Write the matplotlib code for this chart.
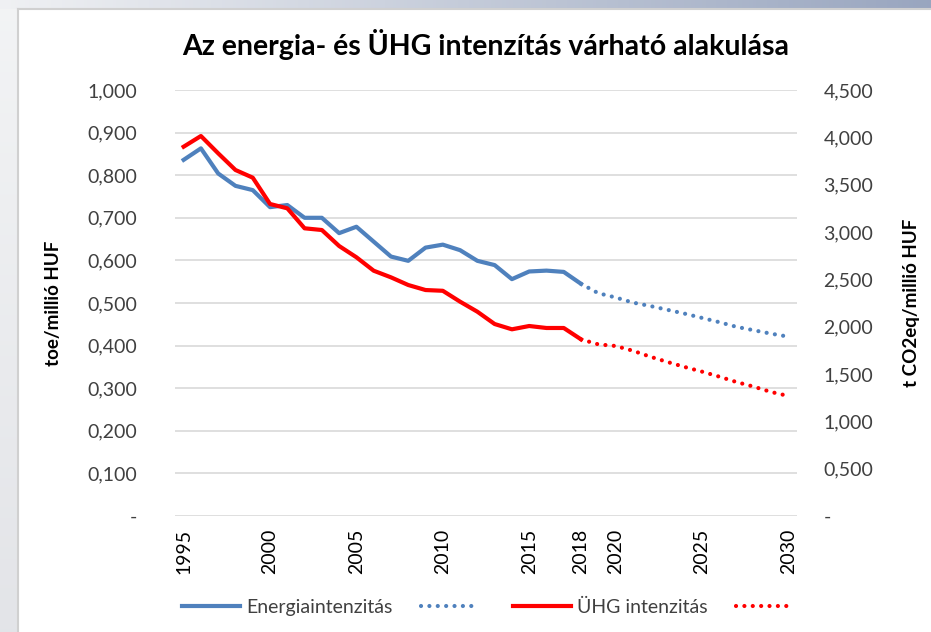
import numpy as np
import matplotlib
matplotlib.use("Agg")
import matplotlib.pyplot as plt
from matplotlib.lines import Line2D

plt.rcParams['font.family'] = ['Lato', 'DejaVu Sans']

# ---- data ----
years_hist = list(range(1995, 2019))
energy_hist = [0.836, 0.863, 0.804, 0.775, 0.765, 0.725, 0.730, 0.700, 0.700, 0.664,
               0.679, 0.644, 0.609, 0.599, 0.630, 0.637, 0.624, 0.599, 0.589, 0.556,
               0.574, 0.576, 0.573, 0.545]
ghg_hist = [3.901, 4.014, 3.831, 3.655, 3.574, 3.296, 3.250, 3.039, 3.021, 2.852,
            2.733, 2.591, 2.521, 2.440, 2.387, 2.379, 2.264, 2.158, 2.028, 1.972,
            2.007, 1.986, 1.986, 1.866]
years_proj = list(range(2018, 2031))
energy_proj = [0.545, 0.523, 0.513, 0.501, 0.493, 0.484, 0.475, 0.465, 0.455, 0.444,
               0.436, 0.428, 0.421]
ghg_proj = [1.866, 1.813, 1.796, 1.746, 1.683, 1.627, 1.574, 1.525, 1.472, 1.415,
            1.366, 1.310, 1.268]
xtick_years = [1995, 2000, 2005, 2010, 2015, 2018, 2020, 2025, 2030]
left_ticks = [0.0, 0.1, 0.2, 0.3, 0.4, 0.5, 0.6, 0.7, 0.8, 0.9, 1.0]
right_ticks = [0.0, 0.5, 1.0, 1.5, 2.0, 2.5, 3.0, 3.5, 4.0, 4.5]

title = "Az energia- és ÜHG intenzítás várható alakulása"
left_label = "toe/millió HUF"
right_label = "t CO2eq/millió HUF"
legend_labels = ["Energiaintenzitás", "", "ÜHG intenzitás", ""]

BLUE = "#4F81BD"
RED = "#FF0000"
GRID = "#D9D9D9"
TXT = "#404040"

W, H = 931, 632
fig = plt.figure(figsize=(W / 100, H / 100), dpi=100)
fig.patch.set_facecolor("white")

# --- screenshot frame: top gradient strip and left gray strip ---
top_ax = fig.add_axes([0, 1 - 9 / H, 1, 9 / H])
grad = np.linspace(0, 1, 256).reshape(1, -1)
c0 = np.array([0.94, 0.945, 0.955])
c1 = np.array([0.60, 0.65, 0.75])
img = c0[None, None, :] * (1 - grad[..., None]) + c1[None, None, :] * grad[..., None]
top_ax.imshow(img, aspect="auto", extent=[0, 1, 0, 1])
top_ax.axis("off")

left_ax = fig.add_axes([0, 0, 18 / W, 1 - 9 / H])
vg = np.linspace(0, 1, 256).reshape(-1, 1)
d0 = np.array([0.95, 0.955, 0.96])
d1 = np.array([0.89, 0.895, 0.91])
img2 = d0[None, None, :] * (1 - vg[..., None]) + d1[None, None, :] * vg[..., None]
left_ax.imshow(img2, aspect="auto", extent=[0, 1, 0, 1])
left_ax.axis("off")

# panel edge lines
fig.add_artist(Line2D([18 / W, 18 / W], [0, 1 - 9 / H], color="#D0D0D0", lw=1.5,
                      transform=fig.transFigure))
fig.add_artist(Line2D([18 / W, 1], [1 - 9 / H, 1 - 9 / H], color="#D0D0D0", lw=1.5,
                      transform=fig.transFigure))

# --- main axes ---
L, R, T, B = 175, 797, 90, 516
ax = fig.add_axes([L / W, 1 - B / H, (R - L) / W, (B - T) / H])
ax.set_facecolor("none")
ax.set_xlim(1994.5, 2030.5)
ax.set_ylim(0, 1.0)
for s in ax.spines.values():
    s.set_visible(False)
ax.set_yticks(left_ticks)
ax.yaxis.grid(True, color=GRID, lw=1.2)
ax.set_axisbelow(True)


def fmt(v):
    if v == 0:
        return "-"
    return f"{v:.3f}".replace(".", ",")


ax.set_yticklabels([fmt(v) for v in left_ticks], fontsize=14, color=TXT)
ax.tick_params(axis="y", length=0, pad=27)
ax.set_xticks(xtick_years)
ax.set_xticklabels([str(y) for y in xtick_years], rotation=90, fontsize=14,
                   color="black", va="top")
ax.tick_params(axis="x", length=0, pad=9)

ax2 = ax.twinx()
ax2.set_ylim(0, 4.5)
for s in ax2.spines.values():
    s.set_visible(False)
ax2.set_yticks(right_ticks)
ax2.set_yticklabels([fmt(v) for v in right_ticks], fontsize=14, color=TXT)
ax2.tick_params(axis="y", length=0, pad=19)

l1, = ax.plot(years_hist, energy_hist, color=BLUE, lw=3, solid_joinstyle="round",
              label=legend_labels[0], zorder=3)
l2, = ax.plot(years_proj, energy_proj, color=BLUE, lw=3,
              linestyle=(0, (0.01, 2.0)), dash_capstyle="round",
              label=legend_labels[1], zorder=2)
l3, = ax2.plot(years_hist, ghg_hist, color=RED, lw=3, solid_joinstyle="round",
               label=legend_labels[2], zorder=3)
l4, = ax2.plot(years_proj, ghg_proj, color=RED, lw=3,
               linestyle=(0, (0.01, 2.0)), dash_capstyle="round",
               label=legend_labels[3], zorder=2)

ax.set_ylabel(left_label, fontsize=13.5, fontweight="bold", color="black")
ax.yaxis.set_label_coords(-(L - 62) / (R - L), 0.5)
ax2.set_ylabel(right_label, fontsize=13.5, fontweight="bold", color="black",
               rotation=90, va="center")
ax2.yaxis.set_label_coords(1 + (912 - R) / (R - L), 0.5)

fig.text(486 / W, 1 - 45 / H, title, fontsize=20.5, fontweight="bold",
         ha="center", va="center", color="black")

leg = fig.legend([l1, l2, l3, l4], legend_labels, loc="center",
                 bbox_to_anchor=(491 / W, 1 - 607 / H), ncol=4, frameon=False,
                 fontsize=14, handlelength=3.0, handletextpad=0.3,
                 columnspacing=1.45)
for t in leg.get_texts():
    t.set_color(TXT)

fig.savefig("out.png", dpi=100, facecolor=fig.get_facecolor())
